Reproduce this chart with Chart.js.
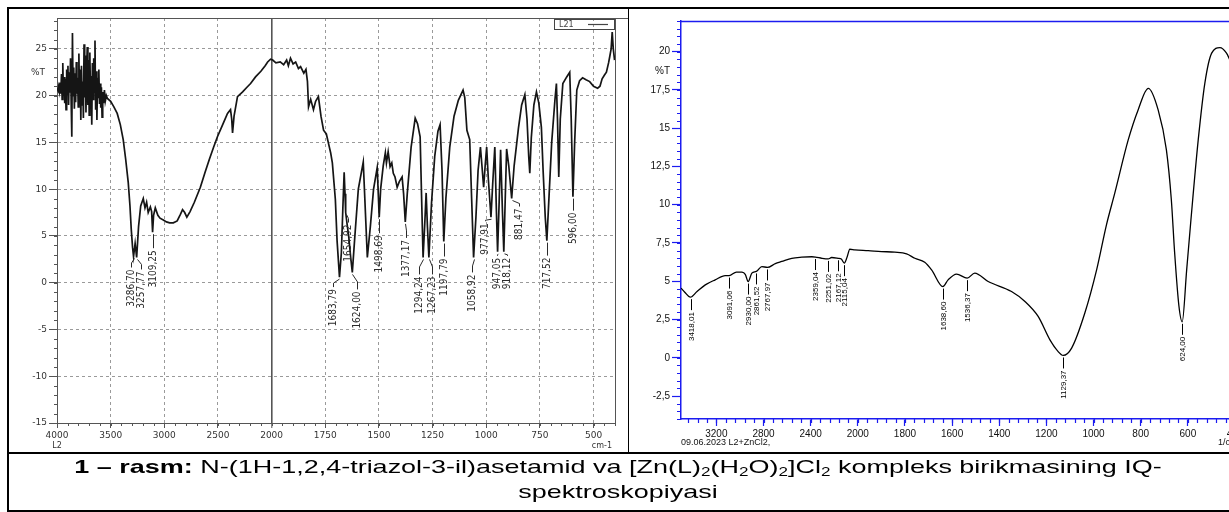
<!DOCTYPE html>
<html>
<head>
<meta charset="utf-8">
<script src="https://cdn.jsdelivr.net/npm/chart.js@4.4.0/dist/chart.umd.min.js"></script>
<style>
html, body { margin: 0; padding: 0; background: #fff; overflow: hidden; width: 1229px; height: 512px; }
#wrap { position: relative; width: 1229px; height: 512px; overflow: hidden; }
.ln { position: absolute; background: #000; }
#leftBox { position: absolute; left: 8px; top: 10px; }
#rightBox { position: absolute; left: 629px; top: 10px; }
#caption {
    position: absolute; left: 0; top: 454px; width: 1236px; text-align: center;
    font-family: "Liberation Sans", Arial, sans-serif; font-size: 19px; line-height: 25px;
    transform: scaleX(1.42); transform-origin: 618px 0;
}
#caption sub { font-size: 12px; line-height: 0; vertical-align: -3px; }
</style>
</head>
<body>
<div id="wrap">
    <div id="leftBox"><canvas id="leftChart" width="620" height="442"></canvas></div>
    <div id="rightBox"><canvas id="rightChart" width="620" height="442"></canvas></div>
    <div class="ln" style="left:7px; top:7px; width:1222px; height:2px;"></div>
    <div class="ln" style="left:7px; top:7px; width:2px; height:505px;"></div>
    <div class="ln" style="left:628px; top:8px; width:1px; height:445px;"></div>
    <div class="ln" style="left:7px; top:452px; width:1222px; height:2px;"></div>
    <div class="ln" style="left:7px; top:510px; width:1222px; height:2px;"></div>
    <div id="caption"><b>1 – rasm:</b> N-(1H-1,2,4-triazol-3-il)asetamid va [Zn(L)<sub>2</sub>(H<sub>2</sub>O)<sub>2</sub>]Cl<sub>2</sub> kompleks birikmasining IQ-<br>spektroskopiyasi</div>
</div>
<script>
// Chap spektr: N-(1H-1,2,4-triazol-3-il)asetamid (L2)
const leftWave = [4000, 3992, 3985, 3978, 3972, 3965, 3958, 3952, 3946, 3940, 3934, 3928, 3922, 3916, 3910, 3904,
    3898, 3892, 3886, 3880, 3874, 3868, 3862, 3856, 3850, 3844, 3838, 3832, 3826, 3820, 3814, 3808, 3802, 3796,
    3790, 3784, 3778, 3772, 3766, 3760, 3754, 3748, 3742, 3736, 3730, 3724, 3718, 3712, 3706, 3700, 3694, 3688,
    3682, 3676, 3670, 3664, 3658, 3652, 3646, 3640, 3634, 3628, 3622, 3616, 3610, 3604, 3598, 3592, 3586, 3580,
    3574, 3566, 3558, 3550, 3540, 3530, 3500, 3470, 3439, 3410, 3383, 3360, 3336, 3320, 3308, 3296, 3286.7, 3272,
    3257.77, 3240, 3220, 3196, 3180, 3165, 3150, 3130, 3118, 3109.25, 3100, 3084, 3060, 3040, 3009, 2980, 2950,
    2916, 2880, 2850, 2830, 2810, 2790, 2760, 2720, 2664, 2620, 2580, 2540, 2505, 2460, 2411, 2383, 2372, 2364,
    2350, 2318, 2270, 2230, 2196, 2150, 2100, 2060, 2037, 2010, 1995, 1980, 1960, 1944, 1930, 1922, 1912, 1900,
    1888, 1875, 1865, 1850, 1840, 1833, 1828, 1818, 1805, 1795, 1782, 1770, 1758, 1745, 1735, 1725, 1717, 1703,
    1695, 1683.79, 1675, 1668, 1662, 1658, 1654.92, 1648, 1640, 1632, 1624, 1612, 1596, 1573, 1562, 1554, 1540,
    1525, 1508, 1503, 1498.69, 1492, 1480, 1470, 1465, 1457, 1448, 1440, 1433, 1425, 1415, 1405, 1392, 1385,
    1377.17, 1368, 1350, 1331, 1320, 1308, 1300, 1294.24, 1287, 1280, 1274, 1267.23, 1255, 1240, 1225, 1215,
    1206, 1197.79, 1188, 1170, 1150, 1130, 1108, 1100, 1090, 1077, 1068, 1058.92, 1048, 1038, 1027, 1020, 1012,
    1005, 998, 990, 977.91, 970, 960, 953, 947.05, 940, 933, 925, 918.12, 912, 905, 895, 881.47, 870, 850, 835,
    820, 810, 802, 797, 790, 778, 766, 755, 743, 735, 725, 717.52, 710, 695, 680, 673, 668, 662, 655, 643, 625,
    611, 604, 596, 588, 578, 565, 551, 535, 518, 500, 481, 470, 460, 449, 440, 430, 425, 418, 413, 408, 402];
const leftT = [20.8, 20.6, 21.0, 20.5, 21.4, 20.2, 22.3, 19.6, 23.5, 20.0, 22.0, 19.2, 21.8, 18.5, 22.8, 20.1,
    23.2, 19.0, 22.5, 20.3, 24.0, 19.4, 15.6, 26.7, 20.0, 23.0, 18.6, 22.4, 19.3, 23.6, 20.2, 21.9, 18.8, 24.5,
    19.5, 22.8, 17.4, 23.2, 19.0, 21.5, 17.6, 25.5, 19.8, 24.3, 18.2, 22.7, 25.2, 19.0, 23.8, 17.9, 24.6, 20.3,
    22.1, 16.9, 23.5, 19.6, 24.0, 20.4, 25.9, 18.5, 22.6, 17.4, 21.9, 19.8, 22.8, 19.1, 21.3, 18.7, 20.9, 17.7,
    20.4, 19.2, 20.6, 19.4, 20.0, 19.7, 19.4, 18.8, 18.1, 16.9, 15.3, 13.2, 10.7, 8.2, 5.7, 3.8, 2.8, 4.2,
    2.7, 6.0, 8.2, 9.0, 8.0, 8.6, 7.5, 8.1, 7.6, 5.4, 7.2, 8.0, 7.2, 6.9, 6.7, 6.5, 6.4,
    6.4, 6.6, 7.3, 7.8, 7.5, 7.0, 7.6, 8.6, 10.2, 11.8, 13.2, 14.5, 15.6, 16.8, 18.1, 18.5, 17.5, 16.0,
    17.8, 19.9, 20.4, 20.9, 21.3, 22.0, 22.6, 23.2, 23.6, 23.9, 23.8, 23.5, 23.6, 23.3, 23.8, 23.2, 24.0, 23.4,
    23.6, 22.9, 23.1, 22.4, 22.8, 21.5, 18.8, 19.6, 18.5, 19.4, 19.9, 17.8, 16.3, 15.9, 14.9, 13.9, 12.8, 8.9,
    4.5, 0.6, 3.2, 8.0, 11.8, 9.5, 7.5, 6.2, 4.8, 2.8, 1.1, 5.0, 10.0, 12.9, 7.0, 2.7, 6.0,
    10.0, 12.3, 9.5, 7.0, 10.0, 12.5, 13.9, 12.8, 14.0, 12.4, 12.8, 11.7, 11.3, 10.2, 10.8, 11.3, 9.5,
    6.5, 9.5, 14.5, 17.6, 17.0, 15.6, 8.0, 2.7, 6.0, 9.6, 6.0, 2.7, 8.5, 13.5, 16.2, 16.9,
    12.0, 4.4, 9.0, 14.5, 17.8, 19.5, 20.6, 19.8, 16.3, 15.3, 9.0, 2.7, 7.0, 12.0, 14.5, 12.5, 10.2,
    12.5, 14.5, 11.0, 7.0, 10.5, 14.5, 8.0, 3.3, 8.5, 14.2, 8.0, 3.3, 8.5, 14.3, 12.5, 9.0, 12.5, 16.5, 19.0,
    20.1, 17.5, 13.5, 11.7, 15.5, 19.0, 20.4, 19.2, 16.6, 12.0, 7.0, 4.5, 8.0, 15.0, 19.5, 21.3, 17.5, 11.3, 17.5, 21.3, 22.0,
    22.5, 17.5, 9.2, 15.0, 20.6, 21.6, 21.9, 21.7, 21.5, 21.0, 20.8, 21.0, 21.8, 22.2, 22.5, 23.5, 24.1, 25.0, 26.8, 25.0, 23.8];
const leftPeaks = [3286.70, 3257.77, 3109.25, 1683.79, 1654.92, 1624.00, 1498.69, 1377.17, 1294.24, 1267.23,
    1197.79, 1058.92, 977.91, 947.05, 918.12, 881.47, 717.52, 596.00];
const leftXTicks = [4000, 3500, 3000, 2500, 2000, 1750, 1500, 1250, 1000, 750, 500];
const leftYTicks = [-15, -10, -5, 0, 5, 10, 15, 20, 25];

// O'ng spektr: [Zn(L)2(H2O)2]Cl2 (L2+ZnCl2)
const rightWave = [3500, 3470, 3420, 3364, 3294, 3210, 3125, 3091, 3030, 2983, 2955, 2930, 2899, 2861, 2814,
    2767, 2700, 2645, 2560, 2475, 2390, 2359, 2304, 2251, 2222, 2167, 2140, 2115, 2090, 2068, 2025, 1956, 1900,
    1843, 1793, 1758, 1716, 1687, 1639, 1617, 1581, 1536, 1504, 1447, 1348, 1291, 1235, 1185, 1150, 1129, 1093,
    1037, 987, 945, 910, 853, 811, 768, 726, 691, 670, 656, 638, 624, 605, 587, 556, 528, 499, 464, 436, 420, 400];
const rightT = [4.55, 4.3, 3.96, 4.33, 4.76, 5.09, 5.37, 5.37, 5.6, 5.59, 5.45, 4.98, 5.53, 5.64, 5.96,
    5.9, 6.15, 6.29, 6.5, 6.57, 6.6, 6.58, 6.5, 6.46, 6.55, 6.5, 6.45, 6.18, 6.6, 7.09, 7.05, 7.0, 6.94,
    6.9, 6.79, 6.5, 6.24, 5.74, 4.65, 5.09, 5.46, 5.2, 5.53, 4.98, 4.33, 3.68, 2.7, 1.17, 0.4, 0.15, 0.63,
    2.92, 5.74, 8.7, 10.75, 14.23, 16.19, 17.6, 16.19, 13.58, 10.31, 6.85, 3.4, 2.35, 5.74, 9.0, 14.23, 17.93, 19.9, 20.26, 19.9, 19.4, 18.8];
const rightPeaks = [3418.01, 3091.06, 2930.00, 2861.52, 2767.97, 2359.04, 2251.02, 2167.12, 2115.04,
    1638.60, 1536.37, 1129.37, 624.00];
const rightXTicks = [3200, 2800, 2400, 2000, 1800, 1600, 1400, 1200, 1000, 800, 600, 400];
const rightYTicks = [-2.5, 0, 2.5, 5, 7.5, 10, 12.5, 15, 17.5, 20];

// 4000-2000 oralig'i ikki barobar siqilgan shkala
function toU(w) {
    return w >= 2000 ? (4000 - w) / 2 : 1000 + (2000 - w);
}

const blue = '#1c1cf0';

// cho'qqi yorliqlari (vertikal matn)
const peakLabels = {
    id: 'peakLabels',
    afterDatasetsDraw(chart, args, o) {
        if (!o.peaks) return;
        const ctx = chart.ctx, x = chart.scales.x, y = chart.scales.y;
        const pts = chart.data.datasets[0].data;
        ctx.save();
        ctx.font = o.font;
        ctx.fillStyle = o.color;
        ctx.strokeStyle = o.color;
        ctx.lineWidth = 1;
        o.peaks.forEach((w, i) => {
            const u = toU(w);
            let p = pts[0];
            pts.forEach(q => { if (Math.abs(q.x - u) < Math.abs(p.x - u)) p = q; });
            const px = x.getPixelForValue(u), py = y.getPixelForValue(p.y);
            const dx = o.dx ? o.dx[i] : 0;
            const drop = o.drop ? o.drop[i] : o.defDrop;
            const lx = Math.round(px + dx) + 0.5;
            const top = py + drop;
            ctx.beginPath();
            ctx.moveTo(Math.round(px) + 0.5, py + 2);
            if (dx) ctx.lineTo(lx, py + 2 + Math.max(drop - 4, 1) * 0.5);
            ctx.lineTo(lx, top - 2);
            ctx.stroke();
            ctx.save();
            ctx.translate(lx, top);
            ctx.rotate(-Math.PI / 2);
            ctx.textAlign = 'right';
            ctx.textBaseline = 'middle';
            ctx.fillText(w.toFixed(2).replace('.', ','), 0, 0);
            ctx.restore();
        });
        ctx.restore();
    }
};

// mayda shtrixlar
const minorTicks = {
    id: 'minorTicks',
    afterDraw(chart, args, o) {
        const ctx = chart.ctx, a = chart.chartArea, x = chart.scales.x, y = chart.scales.y;
        ctx.save();
        ctx.strokeStyle = o.color;
        ctx.lineWidth = o.width;
        ctx.beginPath();
        for (let v = o.xFrom; v <= x.max + 1e-6; v += o.xStep) {
            const px = Math.round(x.getPixelForValue(v)) + 0.5;
            ctx.moveTo(px, a.bottom);
            ctx.lineTo(px, a.bottom + o.len);
        }
        for (let v = o.yFrom; v <= y.max + 1e-6; v += o.yStep) {
            const py = Math.round(y.getPixelForValue(v)) + 0.5;
            ctx.moveTo(a.left, py);
            ctx.lineTo(a.left - o.len, py);
        }
        ctx.stroke();
        ctx.restore();
    }
};

// ramka va qo'shimcha yozuvlar
const extras = {
    id: 'extras',
    afterDraw(chart, args, o) {
        const ctx = chart.ctx, a = chart.chartArea, y = chart.scales.y;
        ctx.save();
        ctx.strokeStyle = o.frameColor;
        ctx.lineWidth = o.frameWidth;
        ctx.beginPath();
        ctx.moveTo(a.left, a.top + 0.5);
        ctx.lineTo(a.right + 20, a.top + 0.5);
        if (o.rightFrame) {
            ctx.moveTo(a.right + 0.5, a.top);
            ctx.lineTo(a.right + 0.5, a.bottom);
        }
        ctx.stroke();
        ctx.fillStyle = o.textColor;
        o.texts.forEach(t => {
            ctx.font = t.font;
            ctx.textAlign = t.align;
            ctx.textBaseline = 'middle';
            const tx = t.side === 'right' ? a.right + t.x : a.left + t.x;
            const ty = t.v !== undefined ? y.getPixelForValue(t.v) : a.bottom + t.y;
            ctx.fillText(t.text, tx, ty);
        });
        if (o.legend) {
            const lx = a.right - 61, ly = a.top + 1;
            ctx.strokeStyle = '#444';
            ctx.lineWidth = 1;
            ctx.strokeRect(lx + 0.5, ly + 0.5, 60, 10);
            ctx.fillStyle = '#444';
            ctx.font = '8px "DejaVu Sans", sans-serif';
            ctx.textAlign = 'left';
            ctx.fillText(o.legend, lx + 5, ly + 6);
            ctx.beginPath();
            ctx.lineWidth = 1.2;
            ctx.moveTo(lx + 34, ly + 5.5);
            ctx.lineTo(lx + 54, ly + 5.5);
            ctx.stroke();
        }
        ctx.restore();
    }
};

Chart.defaults.font.family = '"Liberation Sans", Arial, sans-serif';

new Chart(document.getElementById('leftChart'), {
    type: 'line',
    data: {
        datasets: [{
            data: leftWave.map((w, i) => ({ x: toU(w), y: leftT[i] })),
            borderColor: '#151515',
            borderWidth: 1.7,
            pointRadius: 0,
            tension: 0
        }]
    },
    plugins: [minorTicks, peakLabels, extras],
    options: {
        responsive: false,
        animation: false,
        layout: { padding: { top: 8, right: 13, left: 0, bottom: 0 } },
        plugins: {
            legend: { display: false },
            tooltip: { enabled: false },
            minorTicks: { color: '#555', width: 1, len: 3, xFrom: 0, xStep: 50, yFrom: -15, yStep: 1 },
            peakLabels: {
                peaks: leftPeaks,
                font: '10px "Liberation Sans Narrow", "DejaVu Sans Condensed", sans-serif',
                color: '#2a2a2a',
                dx: [-3, 4, 0, -6, 2, 5, 0, 1, -4, 3, 0, -2, -6, -1, 3, 7, 0, 0],
                drop: [13, 14, 18, 12, 12, 19, 18, 18, 19, 19, 17, 17, 6, 6, 6, 10, 17, 16]
            },
            extras: {
                frameColor: '#555', frameWidth: 1, rightFrame: true, textColor: '#333', legend: 'L21',
                texts: [
                    { text: '%T', side: 'left', x: -12, v: 22.5, align: 'right', font: '9px "DejaVu Sans", sans-serif' },
                    { text: 'L2', side: 'left', x: 0, y: 23, align: 'center', font: '8px "DejaVu Sans", sans-serif' },
                    { text: 'cm-1', side: 'right', x: -3, y: 23, align: 'right', font: '8px "DejaVu Sans", sans-serif' }
                ]
            }
        },
        scales: {
            x: {
                type: 'linear',
                min: 0,
                max: 2600,
                afterBuildTicks: s => { s.ticks = leftXTicks.map(w => ({ value: toU(w) })); },
                afterFit: s => { s.height = 29; },
                ticks: {
                    autoSkip: false, maxRotation: 0, padding: 2, color: '#333',
                    font: { family: '"DejaVu Sans", sans-serif', size: 9 },
                    callback: (v, i) => leftXTicks[i]
                },
                grid: {
                    color: c => c.tick && c.tick.value === 1000 ? '#555' : (c.tick && c.tick.value === 0 ? 'rgba(0,0,0,0)' : '#9a9a9a'),
                    lineWidth: c => c.tick && c.tick.value === 1000 ? 1.6 : 1,
                    tickLength: 5,
                    tickColor: '#555',
                    tickWidth: 1
                },
                border: { color: '#555', width: 1, dash: c => (c.type === 'tick' && c.tick.value !== 1000) ? [3, 3] : [] }
            },
            y: {
                min: -15,
                max: 28.3,
                afterBuildTicks: s => { s.ticks = leftYTicks.map(v => ({ value: v })); },
                afterFit: s => { s.width = 49; },
                ticks: {
                    padding: 2, color: '#333',
                    font: { family: '"DejaVu Sans", sans-serif', size: 9 },
                    callback: v => v
                },
                grid: {
                    color: c => c.tick && c.tick.value === -15 ? 'rgba(0,0,0,0)' : '#9a9a9a',
                    tickLength: 8,
                    tickColor: '#555'
                },
                border: { color: '#555', width: 1, dash: c => c.type === 'tick' ? [3, 3] : [] }
            }
        }
    }
});

new Chart(document.getElementById('rightChart'), {
    type: 'line',
    data: {
        datasets: [{
            data: rightWave.map((w, i) => ({ x: toU(w), y: rightT[i] })),
            borderColor: '#000',
            borderWidth: 1.3,
            pointRadius: 0,
            cubicInterpolationMode: 'monotone'
        }]
    },
    plugins: [minorTicks, peakLabels, extras],
    options: {
        responsive: false,
        animation: false,
        layout: { padding: { top: 11, right: 14, left: 0, bottom: 0 } },
        plugins: {
            legend: { display: false },
            tooltip: { enabled: false },
            minorTicks: { color: blue, width: 1.2, len: 4, xFrom: 280, xStep: 40, yFrom: -4, yStep: 0.5 },
            peakLabels: {
                peaks: rightPeaks,
                font: '8px "Liberation Sans", Arial, sans-serif',
                color: '#000',
                defDrop: 15
            },
            extras: {
                frameColor: blue, frameWidth: 1.5, rightFrame: false, textColor: '#111',
                texts: [
                    { text: '%T', side: 'left', x: -11, v: 18.7, align: 'right', font: '10px "Liberation Sans", Arial, sans-serif' },
                    { text: '09.06.2023 L2+ZnCl2,', side: 'left', x: 0, y: 24, align: 'left', font: '9px "Liberation Sans Narrow", "Liberation Sans", sans-serif' },
                    { text: '1/cm', side: 'right', x: -17, y: 24, align: 'left', font: '9px "Liberation Sans Narrow", "Liberation Sans", sans-serif' }
                ]
            }
        },
        scales: {
            x: {
                type: 'linear',
                min: 250,
                max: 2600,
                afterBuildTicks: s => { s.ticks = rightXTicks.map(w => ({ value: toU(w) })); },
                afterFit: s => { s.height = 33; },
                ticks: {
                    autoSkip: false, maxRotation: 0, padding: 2, color: '#111',
                    font: { size: 10 },
                    callback: (v, i) => rightXTicks[i]
                },
                grid: { drawOnChartArea: false, tickLength: 7, tickColor: blue, tickWidth: 1.2 },
                border: { color: blue, width: 1.5 }
            },
            y: {
                min: -4,
                max: 22,
                afterBuildTicks: s => { s.ticks = rightYTicks.map(v => ({ value: v })); },
                afterFit: s => { s.width = 52; },
                ticks: {
                    padding: 2, color: '#111',
                    font: { size: 10 },
                    callback: v => String(v).replace('.', ',')
                },
                grid: { drawOnChartArea: false, tickLength: 9, tickColor: blue, tickWidth: 1.2 },
                border: { color: blue, width: 1.5 }
            }
        }
    }
});
</script>
</body>
</html>
